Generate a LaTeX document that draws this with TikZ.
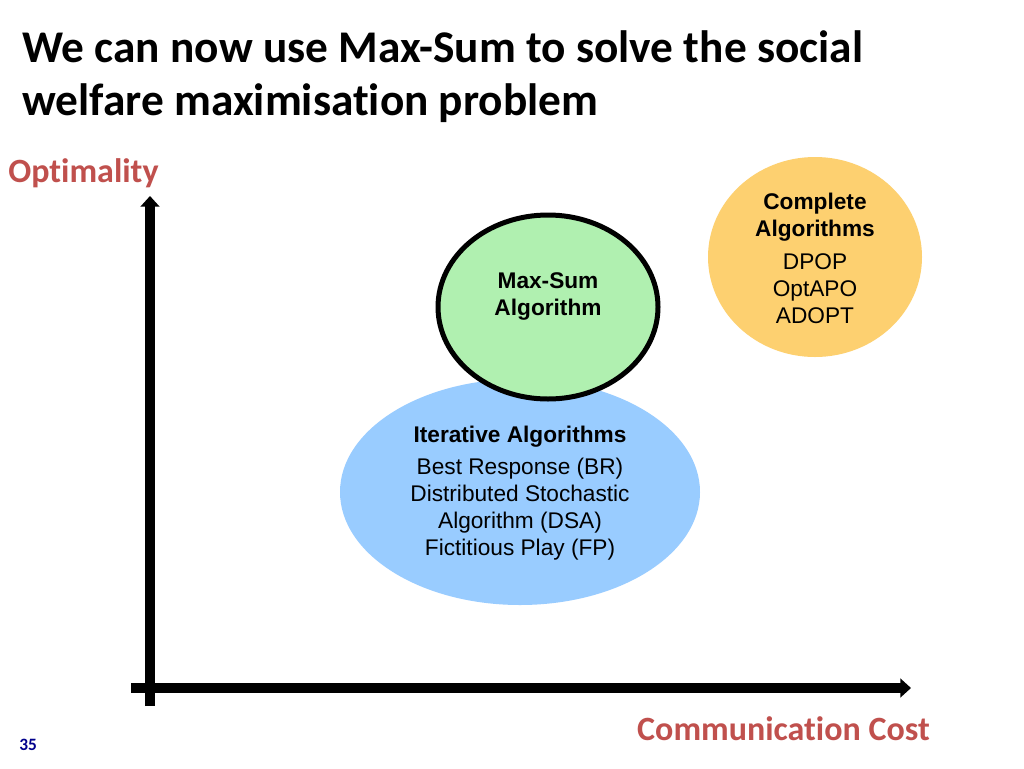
\documentclass[tikz,border=0pt]{standalone}
\usepackage{fontspec}
\setmainfont{Liberation Sans}
\newfontfamily\calibri[Ligatures=NoCommon]{Carlito}
\usetikzlibrary{arrows.meta}
\definecolor{titlered}{RGB}{192,80,77}
\definecolor{pagenum}{RGB}{0,0,140}
\definecolor{msgreen}{RGB}{176,240,176}
\definecolor{itblue}{RGB}{153,204,255}
\definecolor{comporange}{RGB}{253,208,112}
\tikzset{
  axis/.style={line width=7.5pt, -{Triangle[length=8pt,width=14pt]}},
  bubtext/.style={align=center, font=\fontsize{17}{20.25}\selectfont, inner sep=0pt},
  axlabel/.style={text=titlered, font=\calibri\bfseries\fontsize{25.5}{30}\selectfont, inner sep=0pt},
  titletext/.style={anchor=base west, inner sep=0pt, font=\calibri\bfseries\fontsize{34}{40}\selectfont},
}
\begin{document}
\begin{tikzpicture}[x=0.75pt,y=-0.75pt]
\useasboundingbox (0,0) rectangle (1024,768);
\fill[white] (0,0) rectangle (1024,768);
% title
\node[titletext] (t1) at (22,62) {We can now use Max-Sum to solve the social};
\node[titletext] (t2) at (22,115) {welfare maximisation problem};
% bubbles
\fill[itblue] (520,492) ellipse [x radius=180, y radius=113];
\filldraw[fill=msgreen, draw=black, line width=3.75pt] (548,307) ellipse [x radius=110, y radius=92];
\fill[comporange] (815,257) ellipse [x radius=107, y radius=100];
% texts (base = last line baseline)
\node[bubtext, anchor=base] (ms) at (548,315) {\bfseries Max-Sum\\\bfseries Algorithm};
\node[bubtext, anchor=base] (it) at (520,555) {\bfseries Iterative Algorithms\\[3.75pt]Best Response (BR)\\Distributed Stochastic\\Algorithm (DSA)\\Fictitious Play (FP)};
\node[bubtext, anchor=base] (cp) at (815,323) {\bfseries Complete\\\bfseries Algorithms\\[4.5pt]DPOP\\OptAPO\\ADOPT};
% axes
\coordinate (o1) at (150,706);
\coordinate (yt) at (150,196);
\coordinate (o2) at (131,688);
\coordinate (xt) at (911,688);
\draw[axis] (o1) -- (yt);
\draw[axis] (o2) -- (xt);
% axis labels
\node[axlabel, anchor=base west] (opt) at (8,182) {Optimality};
\node[axlabel, anchor=base east] (cc) at (930,740) {Communication Cost};
% page number
\node[anchor=base west, inner sep=0pt, text=pagenum, font=\calibri\bfseries\fontsize{13}{15}\selectfont] (pn) at (19,750) {35};
\end{tikzpicture}
\end{document}
